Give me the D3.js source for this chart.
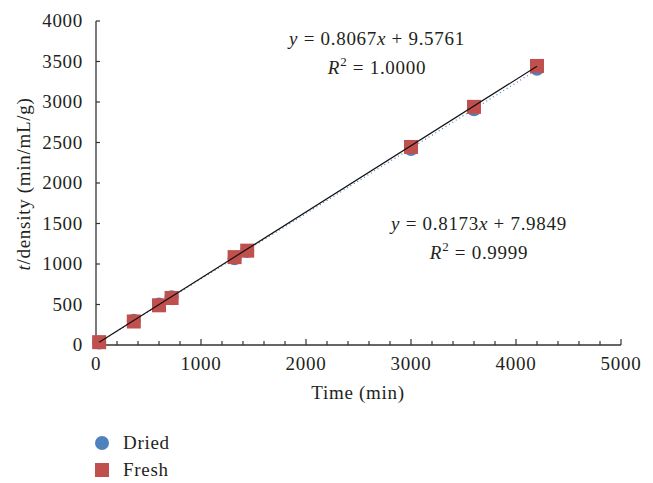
<!DOCTYPE html>
<html lang="en">
<head>
    <script src='https://d3js.org/d3.v7.min.js'></script>
    <style>
        body { margin: 0; background: #fff; }
        text { font-family: "Liberation Serif", "DejaVu Serif", serif; fill: #231f20; letter-spacing: 0.7px; }
    </style>
</head>
<body>
<script>
// data
var times = [30, 360, 600, 720, 1320, 1440, 3000, 3600, 4200];
var dried = [30, 300, 500, 590, 1070, 1160, 2420, 2910, 3410];
var fresh = [35, 290, 490, 580, 1085, 1165, 2445, 2940, 3445];
var driedFit = [0.8067, 9.5761];
var freshFit = [0.8173, 7.9849];
var xTicks = [0, 1000, 2000, 3000, 4000, 5000];
var yTicks = [0, 500, 1000, 1500, 2000, 2500, 3000, 3500, 4000];

var width = 653, height = 483, fs = 19;
var svg = d3.select("body").append("svg")
    .attr("width", width)
    .attr("height", height);

var x = d3.scaleLinear().domain([0, 5000]).range([96, 621]);
var y = d3.scaleLinear().domain([0, 4000]).range([345, 21]);

// axes
var xAxis = svg.append("g").attr("transform", "translate(0," + y(0) + ")");
xAxis.append("line").attr("x1", x(0)).attr("x2", x(5000)).attr("stroke", "#333").attr("stroke-width", 1.3);
xAxis.selectAll(".minor").data(d3.range(0, 5001, 200)).enter().append("line")
    .attr("x1", function(d) { return x(d); }).attr("x2", function(d) { return x(d); })
    .attr("y1", 0).attr("y2", function(d) { return d % 1000 === 0 ? -6 : -4; })
    .attr("stroke", "#333").attr("stroke-width", 1.2);
xAxis.selectAll("text").data(xTicks).enter().append("text")
    .attr("x", function(d) { return x(d); }).attr("y", 25)
    .attr("text-anchor", "middle").attr("font-size", fs)
    .text(function(d) { return d; });

var yAxis = svg.append("g").attr("transform", "translate(" + x(0) + ",0)");
yAxis.append("line").attr("y1", y(0)).attr("y2", y(4000)).attr("stroke", "#333").attr("stroke-width", 1.3);
yAxis.selectAll(".tk").data(yTicks).enter().append("line")
    .attr("y1", function(d) { return y(d); }).attr("y2", function(d) { return y(d); })
    .attr("x1", 0).attr("x2", 4).attr("stroke", "#333").attr("stroke-width", 1.2);
yAxis.selectAll("text").data(yTicks).enter().append("text")
    .attr("x", -13).attr("y", function(d) { return y(d) + 6; })
    .attr("text-anchor", "end").attr("font-size", fs)
    .text(function(d) { return d; });

// axis titles
svg.append("text").attr("x", 358).attr("y", 399).attr("text-anchor", "middle")
    .attr("font-size", fs).text("Time (min)");
var yt = svg.append("text").attr("transform", "translate(30,184) rotate(-90)")
    .attr("text-anchor", "middle").attr("font-size", fs);
yt.append("tspan").attr("font-style", "italic").text("t");
yt.append("tspan").text("/density (min/mL/g)");

// trend lines
function fitLine(fit) {
    return [[times[0], fit[0] * times[0] + fit[1]], [times[times.length - 1], fit[0] * times[times.length - 1] + fit[1]]];
}
var line = d3.line().x(function(d) { return x(d[0]); }).y(function(d) { return y(d[1]); });

// points
svg.selectAll(".dried").data(times).enter().append("circle")
    .attr("cx", function(d) { return x(d); })
    .attr("cy", function(d, i) { return y(dried[i]); })
    .attr("r", 7).attr("fill", "#4f81bd");
svg.append("path").attr("d", line(fitLine(driedFit)))
    .attr("stroke", "#4f81bd").attr("stroke-width", 1.2).attr("stroke-dasharray", "1,3").attr("fill", "none");
svg.selectAll(".fresh").data(times).enter().append("rect")
    .attr("x", function(d) { return x(d) - 7; })
    .attr("y", function(d, i) { return y(fresh[i]) - 7; })
    .attr("width", 14).attr("height", 14).attr("fill", "#c0504d");
svg.append("path").attr("d", line(fitLine(freshFit)))
    .attr("stroke", "#111").attr("stroke-width", 1.2).attr("fill", "none");

// equations
function eq(cx, cy, fit, r2) {
    var t = svg.append("text").attr("x", cx).attr("y", cy).attr("text-anchor", "middle").attr("font-size", fs);
    t.append("tspan").attr("font-style", "italic").text("y");
    t.append("tspan").text("\u00a0= " + fit[0].toFixed(4));
    t.append("tspan").attr("font-style", "italic").text("x");
    t.append("tspan").text("\u00a0+ " + fit[1].toFixed(4));
    var r = svg.append("text").attr("x", cx).attr("y", cy + 29).attr("text-anchor", "middle").attr("font-size", fs);
    r.append("tspan").attr("font-style", "italic").text("R");
    r.append("tspan").attr("dy", -8).attr("font-size", 13).text("2");
    r.append("tspan").attr("dy", 8).text("\u00a0= " + r2);
}
eq(377, 45, driedFit, "1.0000");
eq(479, 230, freshFit, "0.9999");

// legend
svg.append("circle").attr("cx", 102).attr("cy", 443).attr("r", 7).attr("fill", "#4f81bd");
svg.append("text").attr("x", 123).attr("y", 449).attr("font-size", fs).text("Dried");
svg.append("rect").attr("x", 95).attr("y", 463).attr("width", 14).attr("height", 14).attr("fill", "#c0504d");
svg.append("text").attr("x", 123).attr("y", 476).attr("font-size", fs).text("Fresh");
</script>
</body>
</html>
